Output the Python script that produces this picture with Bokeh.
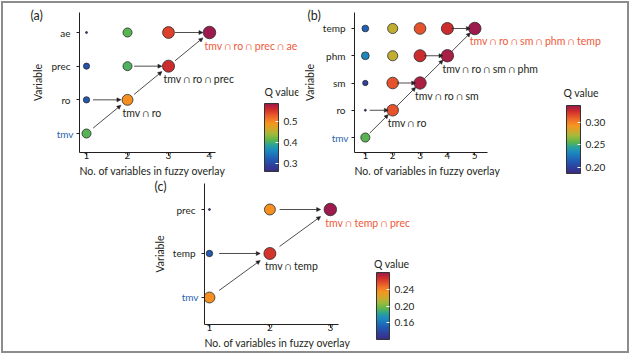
import math
from bokeh.plotting import figure
from bokeh.models import (ColumnDataSource, LinearColorMapper, ColorBar, FixedTicker,
                          Arrow, NormalHead, Label, Spacer, PrintfTickFormatter,
                          LinearAxis, Title)
from bokeh.layouts import row, column
from bokeh.core.properties import value
from bokeh.embed import file_html
from bokeh.resources import INLINE

# ---------------- data ----------------
# (a)
A_VARS = ["tmv", "ro", "prec", "ae"]            # order of the selected path (tmv first)
A_STEP = [1, 1, 1, 1, 2, 2, 2, 3, 3, 4]
A_VAR = ["tmv", "ro", "prec", "ae", "ro", "prec", "ae", "prec", "ae", "ae"]
A_Q = [0.408, 0.317, 0.312, 0.262, 0.495, 0.406, 0.410, 0.560, 0.545, 0.586]
A_XTICKS = [1, 2, 3, 4]
A_CB_TICKS = [0.3, 0.4, 0.5]

# (b)
B_VARS = ["tmv", "ro", "sm", "phm", "temp"]
B_STEP = [1, 1, 1, 1, 1, 2, 2, 2, 2, 3, 3, 3, 4, 4, 5]
B_VAR = ["tmv", "ro", "sm", "phm", "temp", "ro", "sm", "phm", "temp",
         "sm", "phm", "temp", "phm", "temp", "temp"]
B_Q = [0.255, 0.187, 0.202, 0.232, 0.217, 0.313, 0.313, 0.277, 0.277,
       0.333, 0.325, 0.313, 0.334, 0.325, 0.337]
B_XTICKS = [1, 2, 3, 4, 5]
B_CB_TICKS = [0.20, 0.25, 0.30]

# (c)
C_VARS = ["tmv", "temp", "prec"]
C_STEP = [1, 1, 1, 2, 2, 3]
C_VAR = ["tmv", "temp", "prec", "temp", "prec", "prec"]
C_Q = [0.236, 0.148, 0.119, 0.265, 0.236, 0.281]
C_XTICKS = [1, 2, 3]
C_CB_TICKS = [0.16, 0.20, 0.24]

XLABEL = "No. of variables in fuzzy overlay"
YLABEL = "Variable"
CBTITLE = "Q value"
JOIN = " \u2229 "

# ---------------- style ----------------
FONT = "Lato"
INK = "#231f20"
BLUE = "#2b63ae"
RED = "#ef5a3c"
TMV_W = 17   # approx. pixel width of the blue start label

ANCH = [(0.00, "#3d2b85"), (0.10, "#2c43a0"), (0.20, "#1f62b7"), (0.31, "#1c8ac0"),
        (0.39, "#2aa39a"), (0.46, "#5cb54b"), (0.55, "#9fbb3c"), (0.62, "#cfa92c"),
        (0.71, "#f6951f"), (0.80, "#ee6a2a"), (0.87, "#e0432b"), (0.93, "#c8282f"),
        (1.00, "#9c1a4d")]


def hex2rgb(h):
    return tuple(int(h[i:i + 2], 16) for i in (1, 3, 5))


def build_palette(n=256):
    out = []
    for i in range(n):
        t = i / (n - 1)
        for (t0, c0), (t1, c1) in zip(ANCH[:-1], ANCH[1:]):
            if t0 <= t <= t1:
                f = (t - t0) / (t1 - t0)
                a, b = hex2rgb(c0), hex2rgb(c1)
                rgb = [round(a[k] + (b[k] - a[k]) * f) for k in range(3)]
                out.append("#%02x%02x%02x" % tuple(rgb))
                break
    return out


PALETTE = build_palette()


def page_to_data(g, px, py):
    fl = g["x0"] + g["bl"]
    ft = g["y0"] + g["bt"]
    ppx = (g["w"] - g["bl"] - g["br"]) / (g["xr"][1] - g["xr"][0])
    ppy = (g["h"] - g["bt"] - g["bb"]) / (g["yr"][1] - g["yr"][0])
    return g["xr"][0] + (px - fl) / ppx, g["yr"][1] - (py - ft) / ppy


def style_axis(ax, size="10px"):
    ax.axis_line_color = INK
    ax.axis_line_width = 1
    ax.major_tick_line_color = INK
    ax.major_tick_out = 3
    ax.major_tick_in = 0
    ax.minor_tick_line_color = None
    ax.major_label_text_font = FONT
    ax.major_label_text_font_size = size
    ax.major_label_text_color = INK
    ax.axis_label_text_font = FONT
    ax.axis_label_text_font_size = "10.5px"
    ax.axis_label_text_font_style = "normal"
    ax.axis_label_text_color = INK


def make_panel(vars_, steps, varnames, q, xticks, cbticks, fmt, g, tag):
    qmin, qmax = min(q), max(q)
    ypos = {v: i for i, v in enumerate(vars_)}
    sizes = [2 + 10.5 * math.sqrt((v - qmin) / (qmax - qmin)) for v in q]
    src = ColumnDataSource(dict(x=steps, y=[ypos[v] for v in varnames], q=q, size=sizes))

    p = figure(width=g["w"], height=g["h"], output_backend="svg", toolbar_location=None,
               x_range=g["xr"], y_range=g["yr"],
               min_border_left=g["bl"], min_border_right=g["br"],
               min_border_top=g["bt"], min_border_bottom=g["bb"])
    p.outline_line_color = None
    p.grid.visible = False
    p.background_fill_color = "white"
    p.border_fill_color = None

    # panel tag as the plot title
    p.title.text = tag
    p.title.align = "left"
    p.title.offset = g["tagoff"]
    p.title.standoff = g["tagso"]
    p.title.vertical_align = "bottom"
    p.title.text_font = FONT
    p.title.text_font_size = "12.5px"
    p.title.text_font_style = "normal"
    p.title.text_color = INK

    # x axis (its title sits under the drawn part of the axis)
    xax = p.xaxis[0]
    style_axis(xax)
    xax.ticker = FixedTicker(ticks=xticks)
    xax.bounds = g["xb"]
    xax.major_label_standoff = -4
    p.add_layout(Title(text=XLABEL, align="left", offset=0, standoff=2,
                       vertical_align="bottom", text_font=FONT, text_font_size="10.5px",
                       text_font_style="normal", text_color=INK), "below")

    # inner y axis: line, ticks and the blue start label
    yin = p.yaxis[0]
    style_axis(yin)
    yin.ticker = FixedTicker(ticks=list(range(len(vars_))))
    yin.major_label_overrides = {i: (v if i == 0 else "") for i, v in enumerate(vars_)}
    yin.major_label_text_color = BLUE
    yin.major_label_standoff = 3
    # outer y axis: the other variable names and the axis title
    yout = LinearAxis(ticker=FixedTicker(ticks=list(range(1, len(vars_)))),
                      major_label_overrides={i: v for i, v in enumerate(vars_) if i > 0})
    style_axis(yout)
    yout.axis_line_color = None
    yout.major_tick_line_color = None
    yout.major_tick_out = 0
    yout.major_label_standoff = -TMV_W
    yout.axis_label = YLABEL
    yout.axis_label_standoff = 4
    p.add_layout(yout, "left")

    # colour-bar title
    cx, cy = page_to_data(g, g["cbt"][0], g["cbt"][1])
    p.add_layout(Label(x=cx, y=cy, text=CBTITLE, text_font=FONT, text_font_size="10.5px",
                       text_color=INK, text_align="left", text_baseline="middle"))

    # arrows along the selected path
    n = len(vars_)
    xs0, ys0, xs1, ys1 = [], [], [], []
    f0, f1 = 0.16, 0.84
    for k in range(n - 1):
        a = (k + 1, ypos[vars_[k]]); b = (k + 2, ypos[vars_[k + 1]])
        xs0.append(a[0] + f0 * (b[0] - a[0])); ys0.append(a[1] + f0 * (b[1] - a[1]))
        xs1.append(a[0] + f1 * (b[0] - a[0])); ys1.append(a[1] + f1 * (b[1] - a[1]))
        a = (k + 1, ypos[vars_[k + 1]]); b = (k + 2, ypos[vars_[k + 1]])
        xs0.append(a[0] + f0 * (b[0] - a[0])); ys0.append(a[1])
        xs1.append(a[0] + f1 * (b[0] - a[0])); ys1.append(a[1])
    asrc = ColumnDataSource(dict(x0=xs0, y0=ys0, x1=xs1, y1=ys1))
    p.add_layout(Arrow(x_start="x0", y_start="y0", x_end="x1", y_end="y1", source=asrc,
                       line_color=INK, line_width=0.8,
                       end=NormalHead(size=4, fill_color=INK, line_color=INK, line_width=0.5)))

    mapper = LinearColorMapper(palette=PALETTE, low=qmin, high=qmax)
    p.scatter("x", "y", size="size", source=src,
              fill_color={"field": "q", "transform": mapper},
              line_color="#2a2a2a", line_width=0.8)

    # labels of the selected combinations
    lx, ly, lt, lc = [], [], [], []
    for k in range(1, n):
        lx.append(k + 1); ly.append(ypos[vars_[k]])
        lt.append(JOIN.join(vars_[:k + 1]))
        lc.append(RED if k == n - 1 else INK)
    lsrc = ColumnDataSource(dict(x=lx, y=ly, t=lt, c=lc))
    p.text("x", "y", text="t", source=lsrc, text_color="c", text_font=value(FONT),
           text_font_size="10.5px", text_align="left", text_baseline="middle",
           x_offset=-5, y_offset=13)

    cb = ColorBar(color_mapper=mapper, ticker=FixedTicker(ticks=cbticks),
                  formatter=PrintfTickFormatter(format=fmt),
                  location=g["cb"], width=g["cbw"], height=g["cbh"], padding=0,
                  major_label_text_font=FONT, major_label_text_font_size="10px",
                  major_label_text_color=INK, label_standoff=5,
                  major_tick_line_color="white", major_tick_in=3, major_tick_out=0,
                  minor_tick_line_color=None, bar_line_color="#333333", bar_line_width=1,
                  background_fill_alpha=0, border_line_color=None)
    p.add_layout(cb, "center")
    return p


GA = dict(x0=3, y0=3, w=297, h=177, bl=76, br=2, bt=9, bb=28,
          xr=(0.829, 6.171), yr=(-0.564, 3.594), xb=(0.829, 4.146),
          tagoff=-49, tagso=-20, cbt=(264, 91), cb=(185, -19), cbw=14, cbh=68)
GB = dict(x0=300, y0=3, w=327, h=177, bl=50, br=2, bt=9, bb=28,
          xr=(0.604, 10.51), yr=(-0.55, 4.587), xb=(0.604, 5.47),
          tagoff=-47, tagso=-20, cbt=(562, 92), cb=(212, -21), cbw=14, cbh=68)
GC = dict(x0=150, y0=180, w=270, h=171, bl=52, br=2, bt=3, bb=27,
          xr=(0.918, 4.459), yr=(-0.614, 2.591), xb=(0.918, 3.131),
          tagoff=-50, tagso=-20, cbt=(373, 263), cb=(172, -15), cbw=13, cbh=67)

pa = make_panel(A_VARS, A_STEP, A_VAR, A_Q, A_XTICKS, A_CB_TICKS, "%.1f", GA, "(a)")
pb = make_panel(B_VARS, B_STEP, B_VAR, B_Q, B_XTICKS, B_CB_TICKS, "%.2f", GB, "(b)")
pc = make_panel(C_VARS, C_STEP, C_VAR, C_Q, C_XTICKS, C_CB_TICKS, "%.2f", GC, "(c)")

layout = column(row(pa, pb), row(Spacer(width=147, height=171), pc),
                styles={"border": "2px solid #8c8c8c", "margin": "1px"})

open("out.html", "w").write(file_html(layout, INLINE))
